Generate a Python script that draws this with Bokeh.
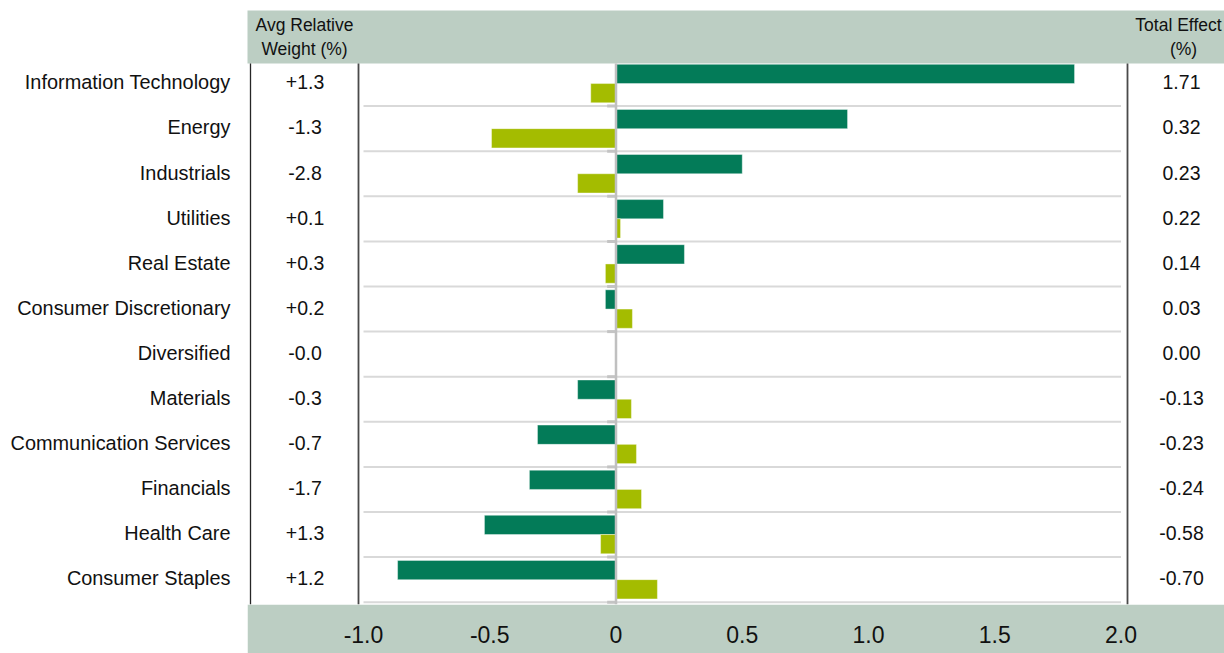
from bokeh.plotting import figure
from bokeh.layouts import row
from bokeh.models import ColumnDataSource, LinearAxis, FixedTicker, Range1d
from bokeh.core.properties import value
from bokeh.embed import file_html
from bokeh.resources import INLINE

# ---------------- data ----------------
categories = ["Information Technology", "Energy", "Industrials", "Utilities", "Real Estate",
              "Consumer Discretionary", "Diversified", "Materials", "Communication Services",
              "Financials", "Health Care", "Consumer Staples"]
selection_effect = [1.816, 0.917, 0.500, 0.188, 0.271, -0.042, 0.0, -0.152, -0.311, -0.343, -0.521, -0.865]
allocation_effect = [-0.100, -0.493, -0.152, 0.018, -0.042, 0.065, 0.0, 0.061, 0.081, 0.101, -0.061, 0.164]
avg_relative_weight = ["+1.3", "-1.3", "-2.8", "+0.1", "+0.3", "+0.2", "-0.0", "-0.3", "-0.7", "-1.7", "+1.3", "+1.2"]
total_effect = ["1.71", "0.32", "0.23", "0.22", "0.14", "0.03", "0.00", "-0.13", "-0.23", "-0.24", "-0.58", "-0.70"]
x_ticks = [-1.0, -0.5, 0.0, 0.5, 1.0, 1.5, 2.0]
x_tick_labels = ["-1.0", "-0.5", "0", "0.5", "1.0", "1.5", "2.0"]
header_left = ["Avg Relative", "Weight (%)"]
header_right = ["Total Effect", "(%)"]

# ---------------- layout helpers (page pixels -> data units) ----------------
W, H = 1224, 653
SPLIT = 247            # page x where the grey bands start
X0_REF, PXU = 615.5, 252.5
ROW_TOP_REF, ROW_H = 60.5, 45.1
n = len(categories)

def xd(px):
    return (px - X0_REF) / PXU

def yd(py):
    return n - (py - ROW_TOP_REF) / ROW_H

FRAME_BOTTOM_REF = 604
BOTTOM = H - FRAME_BOTTOM_REF
y_range = Range1d(yd(FRAME_BOTTOM_REF), yd(0))
y_start = y_range.start

DARK = "#037B58"
LIGHT = "#A4BC00"
BAND = "#BCCEC3"
GRID = "#D9D9D9"
TXT = "#111111"
FONT = "Liberation Sans"
TEXT_NUDGE = 1.2 / ROW_H   # labels sit ~1px above the row centre

centers = [n - i - 0.5 for i in range(n)]
BAR_H = 0.427
src = ColumnDataSource(dict(
    cat=categories,
    yc=[c + TEXT_NUDGE for c in centers],
    y_dark=[c + BAR_H / 2 for c in centers],
    y_light=[c - BAR_H / 2 for c in centers],
    sel=selection_effect,
    alloc=allocation_effect,
    w=avg_relative_weight,
    tot=total_effect,
))

common = dict(output_backend="svg", toolbar_location=None, x_axis_location=None, y_axis_location=None,
              min_border_left=0, min_border_right=0, min_border_top=0, min_border_bottom=BOTTOM)

# ---------------- left panel: category names ----------------
pl = figure(width=SPLIT, height=H, x_range=Range1d(xd(0), xd(SPLIT)), y_range=y_range, **common)
pl.grid.grid_line_color = None
pl.outline_line_color = None
pl.border_fill_color = "white"
pl.background_fill_color = "white"
pl.text(x=xd(230), y="yc", text="cat", source=src, text_align="right", text_baseline="middle",
        text_font=value(FONT), text_font_size=value("19.9px"), text_color=TXT)

# ---------------- main panel ----------------
x_start, x_end = xd(SPLIT), xd(W)
p = figure(width=W - SPLIT, height=H, x_range=Range1d(x_start, x_end), y_range=y_range, **common)
p.grid.grid_line_color = None
p.outline_line_color = None
p.background_fill_color = "white"
p.border_fill_color = BAND

# gridlines between rows
bounds = list(range(0, n + 1))
p.segment(x0=[-1.0] * len(bounds), x1=[2.0] * len(bounds), y0=bounds, y1=bounds,
          line_color=GRID, line_width=2)
# small ticks at the zero axis
p.segment(x0=[-0.035] * len(bounds), x1=[0] * len(bounds), y0=bounds, y1=bounds,
          line_color="#C4C4C4", line_width=3)

# header band
p.quad(left=[x_start - 1], right=[x_end + 1], top=[yd(10)], bottom=[yd(63)], fill_color=BAND, line_color=None)

# bars
p.hbar(y="y_dark", left=0, right="sel", height=BAR_H, source=src, fill_color=DARK,
       line_color="white", line_width=0.8, line_alpha=0.5)
p.hbar(y="y_light", left=0, right="alloc", height=BAR_H, source=src, fill_color=LIGHT,
       line_color="white", line_width=0.8, line_alpha=0.5)

# zero line
p.segment(x0=[0], x1=[0], y0=[y_start], y1=[yd(63)], line_color="#C0C0C0", line_width=2.5)

# dark column separators
for xr, lw, col in [(250, 1.3, "#262626"), (358, 1.8, "#4a4a4a"), (1127, 1.8, "#4a4a4a")]:
    p.segment(x0=[xd(xr)], x1=[xd(xr)], y0=[y_start], y1=[yd(63)], line_color=col, line_width=lw)

# column texts
p.text(x=xd(304.5), y="yc", text="w", source=src, text_align="center", text_baseline="middle",
       text_font=value(FONT), text_font_size=value("19.5px"), text_color=TXT)
p.text(x=xd(1181), y="yc", text="tot", source=src, text_align="center", text_baseline="middle",
       text_font=value(FONT), text_font_size=value("19.5px"), text_color=TXT)

# header texts
p.text(x=[xd(304)] * 2, y=[yd(24), yd(48)], text=header_left, text_align="center", text_baseline="middle",
       text_font=value(FONT), text_font_size=value("17.5px"), text_color=TXT)
p.text(x=[xd(1178), xd(1183)], y=[yd(24), yd(48)], text=header_right, text_align="center",
       text_baseline="middle", text_font=value(FONT), text_font_size=value("17.5px"), text_color=TXT)

# x axis in the bottom band
xaxis = LinearAxis(ticker=FixedTicker(ticks=x_ticks),
                   major_label_overrides=dict(zip(x_ticks, x_tick_labels)))
xaxis.axis_line_color = None
xaxis.major_tick_line_color = None
xaxis.minor_tick_line_color = None
xaxis.major_tick_out = 0
xaxis.major_tick_in = 0
xaxis.major_label_standoff = 21
xaxis.major_label_text_font = FONT
xaxis.major_label_text_font_size = "23px"
xaxis.major_label_text_color = TXT
p.add_layout(xaxis, "below")

layout = row(pl, p, spacing=0)
open("out.html", "w").write(file_html(layout, INLINE))
